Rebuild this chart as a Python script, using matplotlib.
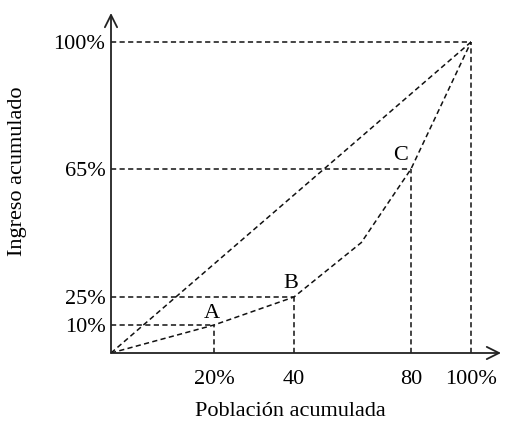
import numpy as np
import matplotlib
matplotlib.use("Agg")
import matplotlib.pyplot as plt
from matplotlib.scale import FuncScale

# Datos de la curva de Lorenz (porcentajes acumulados)
poblacion = [0, 20, 40, 63, 80, 100]
ingreso = [0, 10, 25, 42, 65, 100]
etiquetas_puntos = {"A": (20, 10), "B": (40, 25), "C": (80, 65)}

x_ticks = [20, 40, 80, 100]
x_tick_labels = ["20%", "40", "80", "100%"]
y_ticks = [10, 25, 65, 100]
y_tick_labels = ["10%", "25%", "65%", "100%"]

# el dibujo es esquemático: los ejes no son lineales
x_data = [0, 20, 40, 80, 100, 110]
x_pos = [0, 103, 183, 300, 360, 390]
y_data = [0, 10, 25, 65, 100, 108]
y_pos = [0, 28, 56, 184, 311, 340]

plt.rcParams['font.family'] = ['Liberation Serif', 'DejaVu Serif']

fig = plt.figure(figsize=(5.05, 4.24), dpi=100)
ax = fig.add_axes([111 / 505, 71 / 424, 390 / 505, 340 / 424])

ax.set_xscale(FuncScale(ax, (lambda v: np.interp(v, x_data, x_pos),
                             lambda v: np.interp(v, x_pos, x_data))))
ax.set_yscale(FuncScale(ax, (lambda v: np.interp(v, y_data, y_pos),
                             lambda v: np.interp(v, y_pos, y_data))))
ax.set_xlim(0, 110)
ax.set_ylim(0, 108)

for s in ax.spines.values():
    s.set_visible(False)

dash = dict(color="#111111", lw=1.1, linestyle=(0, (3.4, 2.2)))

# recta de equidistribución
ax.plot([0, 100], [0, 100], **dash)
# curva de Lorenz
ax.plot(poblacion, ingreso, **dash)

# líneas guía
for xv, yv in [(20, 10), (40, 25), (80, 65), (100, 100)]:
    ax.plot([0, xv], [yv, yv], **dash)
    ax.plot([xv, xv], [0, yv], **dash)

# ejes con flechas
for fin in [(110, 0), (0, 108)]:
    ax.annotate("", xy=fin, xytext=(0, 0),
                arrowprops=dict(arrowstyle="->", lw=1.3, color="#222222",
                                shrinkA=0, shrinkB=0, mutation_scale=22),
                annotation_clip=False)

offsets = {"A": (-2, 12), "B": (-3, 13), "C": (-10, 14)}
for nombre, (xv, yv) in etiquetas_puntos.items():
    ax.annotate(nombre, xy=(xv, yv), xytext=offsets[nombre],
                textcoords="offset pixels", ha="center", va="center", fontsize=16)

ax.set_xticks(x_ticks, x_tick_labels)
ax.set_yticks(y_ticks, y_tick_labels)
ax.tick_params(axis="both", length=0, labelsize=16)
ax.tick_params(axis="x", pad=12)
ax.tick_params(axis="y", pad=4)
ax.minorticks_off()

fig.text(290 / 505, 1 - 411 / 424, "Población acumulada", ha="center", va="center", fontsize=16)
fig.text(18 / 505, 1 - 171 / 424, "Ingreso acumulado", ha="center", va="center",
         rotation=90, fontsize=16)

fig.savefig("out.png", dpi=100)
